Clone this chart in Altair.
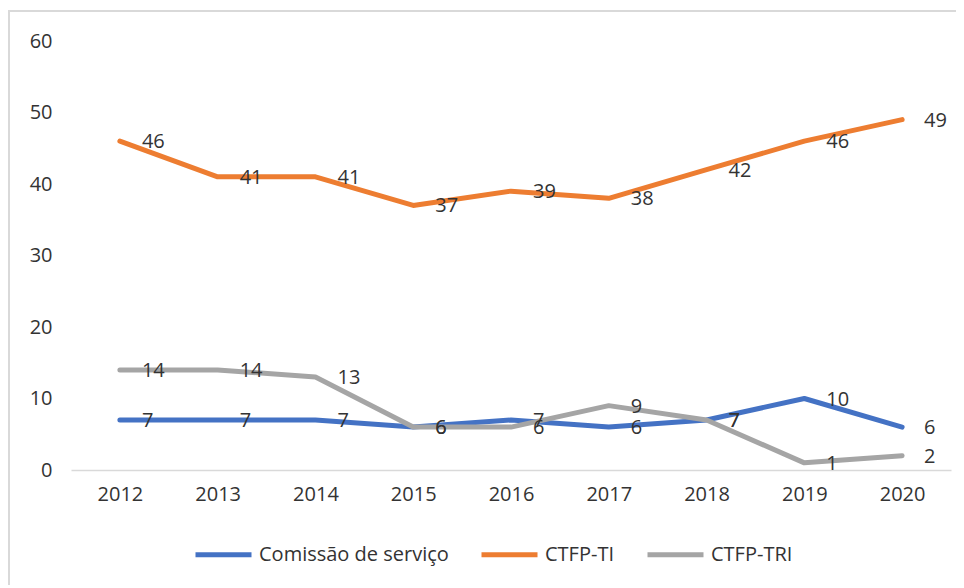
import altair as alt
import pandas as pd

years = ["2012", "2013", "2014", "2015", "2016", "2017", "2018", "2019", "2020"]
series_names = ["Comissão de serviço", "CTFP-TI", "CTFP-TRI"]
comissao = [7, 7, 7, 6, 7, 6, 7, 10, 6]
ctfp_ti = [46, 41, 41, 37, 39, 38, 42, 46, 49]
ctfp_tri = [14, 14, 13, 6, 6, 9, 7, 1, 2]
colors = ["#4472C4", "#ED7D31", "#A5A5A5"]
y_ticks = [0, 10, 20, 30, 40, 50, 60]

rows = []
for name, vals in zip(series_names, [comissao, ctfp_ti, ctfp_tri]):
    for y, v in zip(years, vals):
        rows.append({"Ano": y, "Série": name, "Valor": v})
df = pd.DataFrame(rows)

FONT = "Open Sans"
TXT = "#333333"

x = alt.X("Ano:O", sort=years,
          scale=alt.Scale(type="point", padding=0.5),
          axis=alt.Axis(title=None, labelAngle=0, ticks=False, domainColor="#D9D9D9",
                        domainWidth=1.5, labelPadding=14, labelFontSize=20,
                        labelFont=FONT, labelColor=TXT))
y = alt.Y("Valor:Q", scale=alt.Scale(domain=[0, 60], nice=False),
          axis=alt.Axis(title=None, values=y_ticks, grid=False, ticks=False, domain=False,
                        labelPadding=19, labelFontSize=20, labelFont=FONT, labelColor=TXT))
color = alt.Color("Série:N",
                  scale=alt.Scale(domain=series_names, range=colors),
                  legend=alt.Legend(title=None, orient="none", direction="horizontal",
                                    legendX=122, legendY=483,
                                    symbolType="stroke", symbolSize=3136,
                                    symbolStrokeWidth=5, labelFontSize=20,
                                    labelFont=FONT, labelColor=TXT, labelOffset=5,
                                    columnPadding=22, labelLimit=400))

border = alt.Chart(alt.Data(values=[{}])).mark_rect(
    fill=None, stroke="#D9D9D9", strokeWidth=2
).encode(x=alt.value(-62), y=alt.value(-30), x2=alt.value(1200), y2=alt.value(1200))

lines = alt.Chart(df).mark_line(strokeWidth=5, strokeCap="round", strokeJoin="round").encode(
    x=x, y=y, color=color, order=alt.Order("Ano:O")
)

labels = alt.Chart(df).mark_text(
    align="left", baseline="middle", dx=22, dy=1, fontSize=20, font=FONT, color=TXT
).encode(x=alt.X("Ano:O", sort=years), y="Valor:Q", text="Valor:Q", detail="Série:N")

chart = alt.layer(border, lines, labels).properties(
    width=880, height=429,
    padding={"left": 63, "top": 33, "right": 5, "bottom": 115},
    autosize="none",
).configure_view(stroke=None)

chart.save("out.html", embed_options={"renderer": "svg", "actions": False})
